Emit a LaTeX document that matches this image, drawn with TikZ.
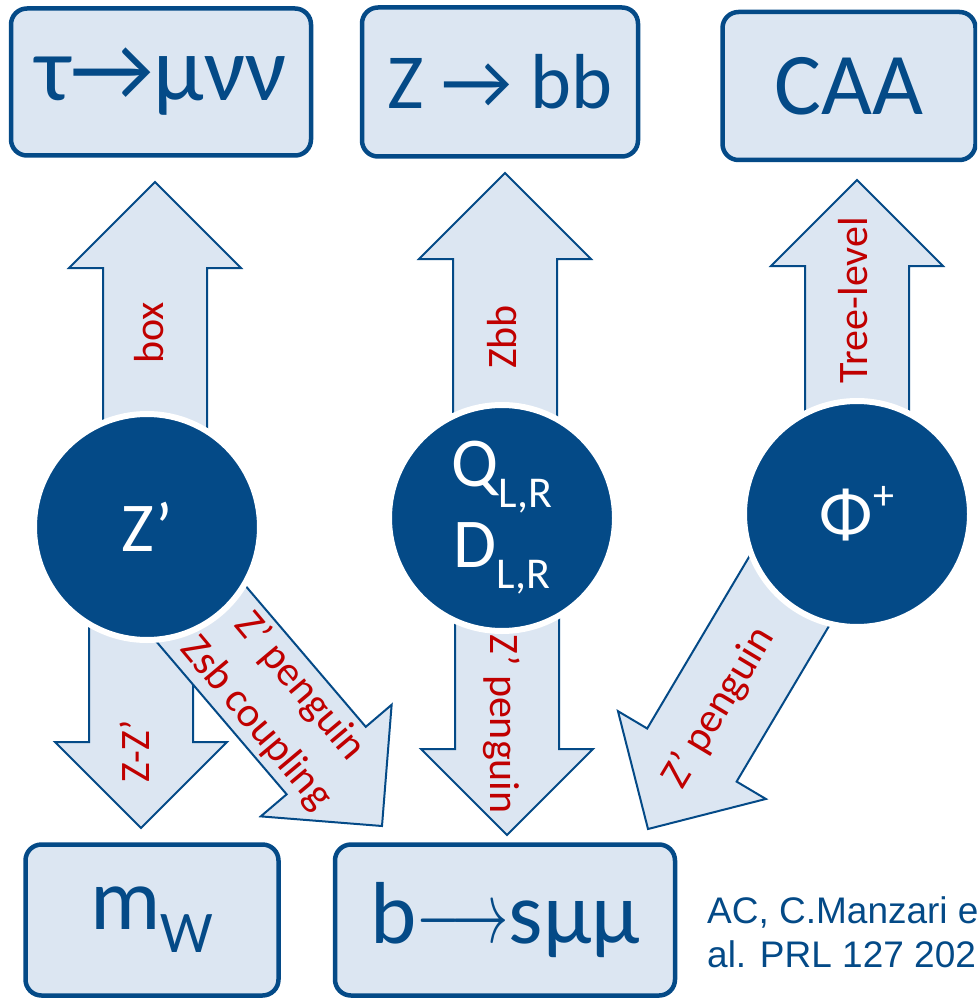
\documentclass[tikz,border=0pt]{standalone}
\usepackage{fontspec}
\usepackage{graphicx}
\setmainfont{Carlito}
\newfontfamily\citefont{Liberation Sans}
\definecolor{dblue}{HTML}{044A87}
\definecolor{lblue}{HTML}{DCE6F2}
\definecolor{dred}{HTML}{C00000}
\newcommand\blockarrow[2]{%
  \pgfpointdiff{\pgfpointanchor{#1}{center}}{\pgfpointanchor{#2}{center}}%
  \pgfgetlastxy{\bdx}{\bdy}%
  \pgfmathsetmacro\bang{atan2(\bdy,\bdx)}%
  \pgfmathsetmacro\blen{veclen(\bdx,\bdy)}%
  \begin{scope}[shift={(#2)}, rotate=\bang]
    \draw[barrow] (0pt,0pt) -- (-86pt,86pt) -- (-86pt,52pt) -- (-\blen pt,52pt)
      -- (-\blen pt,-52pt) -- (-86pt,-52pt) -- (-86pt,-86pt) -- cycle;
  \end{scope}}
\newcommand\lowsub[3]{\raisebox{-#2pt}{\fontsize{#1}{#1}\selectfont #3}}
\begin{document}
\begin{tikzpicture}[x=1pt,y=-1pt,
  box/.style={draw=dblue, line width=4.5pt, fill=lblue, rounded corners=16pt,
    text=dblue, inner sep=0pt, font=\fontsize{88}{88}\selectfont},
  circ/.style={circle, fill=dblue, draw=white, line width=6pt, minimum size=226pt,
    text=white, inner sep=0pt, font=\fontsize{70}{81}\selectfont, align=center},
  barrow/.style={draw=dblue, line width=2pt, fill=lblue, line join=miter},
  lab/.style={text=dred, inner sep=0pt, font=\fontsize{42}{57}\selectfont, align=center},
  cite/.style={text=dblue, inner sep=0pt, align=left, font=\citefont\fontsize{37}{44}\selectfont}]
\useasboundingbox (0,0) rectangle (977,1000);
\clip (0,0) rectangle (977,1000);
% circle centres and arrow ends
\coordinate (zc) at (147,527);
\coordinate (qc) at (502,518);
\coordinate (pc) at (857,514);
\coordinate (t1) at (155,527); \coordinate (h1) at (155,182);
\coordinate (t2) at (505,518); \coordinate (h2) at (505,173);
\coordinate (t3) at (857,514); \coordinate (h3) at (857,180);
\coordinate (t4) at (141,527); \coordinate (h4) at (141,828);
\coordinate (t5) at (127,527); \coordinate (h5) at (382,826);
\coordinate (t6) at (507,518); \coordinate (h6) at (507,835);
\coordinate (t7) at (835,514); \coordinate (h7) at (648,829);
% block arrows
\blockarrow{t1}{h1}
\blockarrow{t2}{h2}
\blockarrow{t3}{h3}
\blockarrow{t4}{h4}
\blockarrow{t5}{h5}
\blockarrow{t6}{h6}
\blockarrow{t7}{h7}
% boxes
\node[box, minimum width=300pt, minimum height=147pt, font=\fontsize{92}{92}\selectfont] (tau) at (161,82) {τ→μνν};
\node[box, minimum width=276pt, minimum height=149pt, font=\fontsize{78}{78}\selectfont] (zbb) at (500,82) {Z → bb};
\node[box, minimum width=253pt, minimum height=148pt] (caa) at (849,86) {CAA};
\node[box, minimum width=253pt, minimum height=151pt] (mw) at (152,920) {m\lowsub{59}{23}{W}};
\node[box, minimum width=340pt, minimum height=151pt] (bsmm) at (505,920) {b\raisebox{1pt}{\scalebox{2.3}[3.5]{$\longrightarrow$}}sμμ};
% circles
\node[circ] (zp) at (zc) {Z’};
\node[circ] (qd) at (qc) {Q\lowsub{44}{21}{L,R}\\D\lowsub{44}{21}{L,R}};
\node[circ] (phi) at (pc) {Φ\raisebox{28pt}{\fontsize{42}{42}\selectfont +}};
% arrow labels
\node[lab, rotate=90] (l1) at (149,333) {box};
\node[lab, rotate=90] (l2) at (502,337) {Zbb};
\node[lab, rotate=90] (l3) at (853,300) {Tree-level};
\node[lab, rotate=90] (l4) at (135,751) {Z-Z’};
\node[lab, rotate=-50] (l5) at (278,705) {Z’ penguin\\Zsb coupling};
\node[lab, rotate=-90] (l6) at (502,724) {Z’ penguin};
\node[lab, rotate=59] (l7) at (719,708) {Z’ penguin};
% citation
\node[cite, anchor=north west] (ref) at (707,896) {AC, C.Manzari et\\al. PRL 127 2021};
\end{tikzpicture}
\end{document}
